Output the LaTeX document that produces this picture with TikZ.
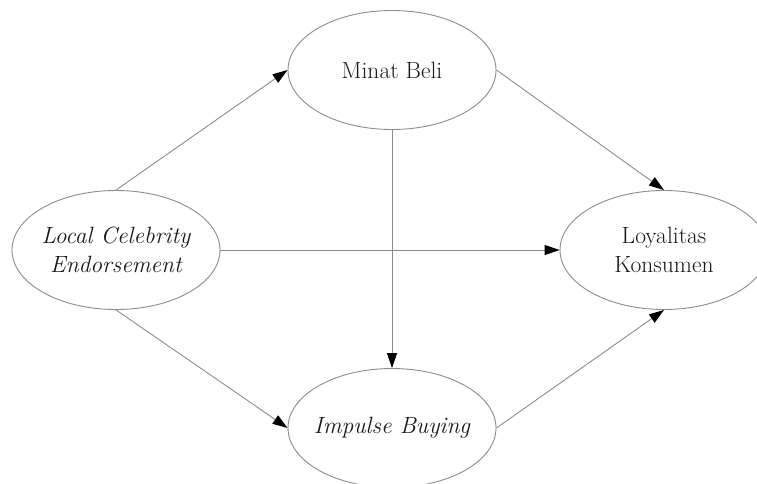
\documentclass[tikz,border=0pt]{standalone}
\usetikzlibrary{arrows.meta,shapes.geometric}
\definecolor{edgegray}{RGB}{140,140,140}
\definecolor{txtgray}{RGB}{25,25,25}
\tikzset{
  var/.style={ellipse,draw=edgegray,line width=0.9pt,minimum width=208pt,minimum height=119pt,inner sep=0pt},
  vartext/.style={inner sep=0pt,align=center,font=\fontsize{23.5}{29}\selectfont,text=txtgray},
  conn/.style={draw=edgegray,line width=0.9pt,-{Triangle[length=15pt,width=10pt,color=black,fill=black]}}
}
\begin{document}
\begin{tikzpicture}[x=1pt,y=-1pt]
\useasboundingbox (0,0) rectangle (757,483);
\clip (0,0) rectangle (757,483);
\fill[white] (0,0) rectangle (757,483);
\node[var] (lce) at (116,250) {};
\node[var] (mb) at (392,70) {};
\node[var] (lk) at (664,250) {};
\node[var] (ib) at (392,428) {};
\node[vartext] (lcet) at (lce.center) {\itshape Local Celebrity\\\itshape Endorsement};
\node[vartext] (mbt) at (mb.center) {Minat Beli};
\node[vartext] (lkt) at (lk.center) {Loyalitas\\Konsumen};
\node[vartext] (ibt) at (ib.center) {\itshape Impulse Buying};
\draw[conn] (lce.north) -- (mb.west);
\draw[conn] (lce.east) -- (lk.west);
\draw[conn] (lce.south) -- (ib.west);
\draw[conn] (mb.east) -- (lk.north);
\draw[conn] (mb.south) -- (ib.north);
\draw[conn] (ib.east) -- (lk.south);
\end{tikzpicture}
\end{document}
